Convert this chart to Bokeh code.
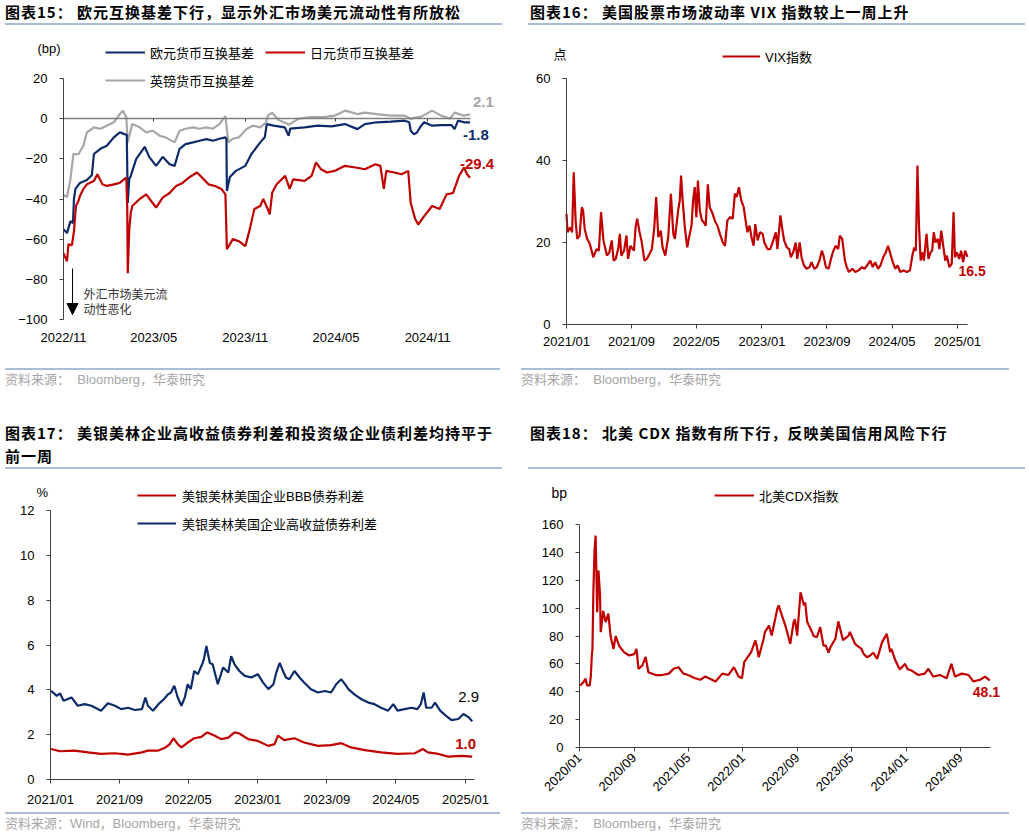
import math
import pandas as pd
from bokeh.plotting import figure
from bokeh.models import (Range1d, FixedTicker, DatetimeTickFormatter, DatetimeAxis, LinearAxis,
                          Legend, LegendItem, Label, Arrow, NormalHead, Div)
from bokeh.layouts import row, column
from bokeh.embed import file_html
from bokeh.resources import INLINE

# ---------------- data ----------------
# Chart 15: cross-currency basis (bp)
eur_dates = ["2022-11-01", "2022-11-08", "2022-11-15", "2022-11-20", "2022-11-22", "2022-11-25", "2022-12-04",
             "2022-12-18", "2022-12-28", "2023-01-01", "2023-01-14", "2023-01-27", "2023-02-10", "2023-02-22",
             "2023-03-03", "2023-03-08", "2023-03-10", "2023-03-13", "2023-03-16", "2023-03-27", "2023-04-13",
             "2023-04-22", "2023-05-06", "2023-05-19", "2023-06-02", "2023-06-12", "2023-06-22", "2023-07-04",
             "2023-07-19", "2023-08-01", "2023-08-15", "2023-08-28", "2023-09-10", "2023-09-22", "2023-09-24",
             "2023-09-25", "2023-10-01", "2023-10-13", "2023-11-01", "2023-11-13", "2023-12-01", "2023-12-10",
             "2023-12-14", "2023-12-28", "2024-01-19", "2024-01-27", "2024-01-30", "2024-02-28", "2024-03-25",
             "2024-04-22", "2024-05-19", "2024-06-13", "2024-06-28", "2024-07-22", "2024-08-19", "2024-09-16",
             "2024-09-25", "2024-09-28", "2024-10-04", "2024-10-10", "2024-10-19", "2024-10-25", "2024-11-10",
             "2024-11-28", "2024-12-19", "2024-12-25", "2025-01-01", "2025-01-13", "2025-01-25"]
eur_vals = [-55, -57, -51, -52, -40, -35, -32, -30.5, -28, -17.6, -15, -13.5, -9.3, -6.8, -7.7, -8, -42, -30,
            -28.5, -20, -14, -19, -23.5, -19, -22.7, -23.5, -15, -12.7, -11.8, -11, -10.2, -11, -10, -9.3, -10,
            -36, -29, -26, -23.5, -17.7, -11.8, -9.3, -2.7, -3.5, -4.3, -8.5, -5, -4.3, -3.5, -3.8, -2.7, -5.2,
            -2.7, -1.8, -1.5, -1, -1.8, -6, -7.7, -7, -3.5, -1.8, -3.5, -3.2, -3.2, -5.2, -1, -1.8, -1.8]

jpy_dates = ["2022-11-01", "2022-11-08", "2022-11-11", "2022-11-18", "2022-11-22", "2022-11-26", "2022-12-01",
             "2022-12-04", "2022-12-11", "2022-12-18", "2023-01-01", "2023-01-08", "2023-01-18", "2023-01-27",
             "2023-02-10", "2023-02-22", "2023-03-07", "2023-03-09", "2023-03-10", "2023-03-13", "2023-03-16",
             "2023-03-19", "2023-04-03", "2023-04-16", "2023-04-29", "2023-05-06", "2023-05-19", "2023-06-02",
             "2023-06-15", "2023-06-28", "2023-07-11", "2023-07-27", "2023-08-06", "2023-08-19", "2023-09-01",
             "2023-09-14", "2023-09-22", "2023-09-25", "2023-10-07", "2023-10-19", "2023-11-01", "2023-11-10",
             "2023-11-19", "2023-12-01", "2023-12-07", "2023-12-16", "2023-12-20", "2023-12-25", "2024-01-03",
             "2024-01-20", "2024-01-29", "2024-02-05", "2024-02-28", "2024-03-13", "2024-03-22", "2024-04-01",
             "2024-04-13", "2024-04-28", "2024-05-19", "2024-06-09", "2024-06-28", "2024-07-19", "2024-07-29",
             "2024-08-05", "2024-08-10", "2024-08-26", "2024-09-10", "2024-09-23", "2024-09-28", "2024-10-07",
             "2024-10-13", "2024-10-25", "2024-11-10", "2024-11-25", "2024-12-09", "2024-12-22", "2025-01-03",
             "2025-01-13", "2025-01-19", "2025-01-25"]
jpy_vals = [-67, -71, -62.5, -63, -56, -43.5, -41, -38.5, -35, -32.7, -31, -27.7, -32.7, -33.5, -32.7, -32,
            -29.3, -45, -77, -55, -47, -43.5, -40, -37.7, -42, -44.3, -39.3, -37, -33.5, -32, -29.3, -26.8,
            -29.3, -32.7, -33.5, -35, -37.7, -65, -60, -61, -63.5, -55, -45, -43.5, -40, -45, -47.7, -36.8,
            -32.7, -28.5, -35, -30.2, -31, -28.5, -21.8, -25.2, -26.8, -26, -23.5, -24.3, -25.2, -22.7, -23.5,
            -35, -26, -26.8, -27.7, -26, -42, -50, -52.7, -48.5, -43.5, -45, -37.7, -37, -28.5, -24.3, -27.7,
            -29.4]

gbp_dates = ["2022-11-01", "2022-11-08", "2022-11-15", "2022-11-21", "2022-12-01", "2022-12-11", "2022-12-18",
             "2023-01-01", "2023-01-14", "2023-01-27", "2023-02-10", "2023-02-22", "2023-02-28", "2023-03-07",
             "2023-03-10", "2023-03-19", "2023-04-03", "2023-04-16", "2023-04-29", "2023-05-13", "2023-05-25",
             "2023-06-12", "2023-06-22", "2023-07-04", "2023-07-19", "2023-08-01", "2023-08-15", "2023-08-28",
             "2023-09-10", "2023-09-22", "2023-09-28", "2023-10-07", "2023-10-19", "2023-11-04", "2023-11-16",
             "2023-12-01", "2023-12-13", "2023-12-16", "2023-12-25", "2024-01-06", "2024-01-28", "2024-02-16",
             "2024-03-13", "2024-04-07", "2024-04-28", "2024-05-19", "2024-06-13", "2024-06-28", "2024-07-22",
             "2024-08-19", "2024-09-16", "2024-09-28", "2024-10-19", "2024-11-10", "2024-11-28", "2024-12-16",
             "2024-12-25", "2025-01-13", "2025-01-25"]
gbp_vals = [-38, -39, -30, -17.7, -17.7, -13.5, -6.8, -4.3, -5, -3.5, -1.8, 2.3, 4, 0.7, -11.8, -2.7, -4.3,
            -6.8, -6, -8.5, -9.3, -11.8, -6, -5, -4.3, -5, -4.3, -5, -2.7, 1.3, -11.8, -10, -9.3, -5, -3.5,
            -4.3, -1.8, 1.5, 3, -0.5, -3, 0, 0.8, 0.8, 1.5, 4, 2.3, 3, 2.3, 1.5, 1.5, 0, 1, 4, 1.5, 0, 3, 1.5,
            2.1]

basis_ticks = ["2022-11-01", "2023-05-01", "2023-11-01", "2024-05-01", "2024-11-01"]
basis_yticks = [-100, -80, -60, -40, -20, 0, 20]

# Chart 16: VIX
vix_dates = ["2021-01-01", "2021-01-05", "2021-01-15", "2021-01-22", "2021-01-28", "2021-02-04", "2021-02-10",
             "2021-02-19", "2021-02-27", "2021-03-04", "2021-03-10", "2021-03-19", "2021-03-29", "2021-04-11",
             "2021-04-23", "2021-05-02", "2021-05-10", "2021-05-19", "2021-06-01", "2021-06-10", "2021-06-19",
             "2021-06-26", "2021-07-04", "2021-07-14", "2021-07-19", "2021-07-25", "2021-08-04", "2021-08-13",
             "2021-08-19", "2021-08-28", "2021-09-10", "2021-09-16", "2021-09-22", "2021-10-01", "2021-10-08",
             "2021-10-19", "2021-10-28", "2021-11-07", "2021-11-16", "2021-11-25", "2021-12-02", "2021-12-10",
             "2021-12-19", "2021-12-26", "2022-01-05", "2022-01-16", "2022-01-26", "2022-02-04", "2022-02-10",
             "2022-02-22", "2022-02-28", "2022-03-05", "2022-03-11", "2022-03-19", "2022-03-28", "2022-04-04",
             "2022-04-13", "2022-04-19", "2022-04-25", "2022-05-01", "2022-05-07", "2022-05-14", "2022-05-22",
             "2022-05-28", "2022-06-05", "2022-06-13", "2022-06-20", "2022-07-01", "2022-07-11", "2022-07-19",
             "2022-07-28", "2022-08-08", "2022-08-16", "2022-08-25", "2022-09-05", "2022-09-14", "2022-09-22",
             "2022-09-29", "2022-10-07", "2022-10-16", "2022-10-25", "2022-11-01", "2022-11-08", "2022-11-16",
             "2022-11-23", "2022-12-01", "2022-12-07", "2022-12-16", "2022-12-25", "2023-01-04", "2023-01-10",
             "2023-01-22", "2023-02-01", "2023-02-10", "2023-02-22", "2023-02-28", "2023-03-05", "2023-03-11",
             "2023-03-19", "2023-03-25", "2023-04-04", "2023-04-13", "2023-04-19", "2023-04-28", "2023-05-07",
             "2023-05-13", "2023-05-22", "2023-05-29", "2023-06-07", "2023-06-17", "2023-06-28", "2023-07-05",
             "2023-07-16", "2023-07-25", "2023-08-04", "2023-08-13", "2023-08-19", "2023-08-28", "2023-09-07",
             "2023-09-16", "2023-09-25", "2023-10-04", "2023-10-13", "2023-10-19", "2023-10-28", "2023-11-07",
             "2023-11-14", "2023-11-22", "2023-12-05", "2023-12-16", "2023-12-28", "2024-01-10", "2024-01-19",
             "2024-01-29", "2024-02-10", "2024-02-19", "2024-02-28", "2024-03-10", "2024-03-19", "2024-03-29",
             "2024-04-08", "2024-04-16", "2024-04-25", "2024-05-04", "2024-05-13", "2024-05-22", "2024-06-01",
             "2024-06-13", "2024-06-25", "2024-07-07", "2024-07-16", "2024-07-23", "2024-07-29", "2024-08-04",
             "2024-08-10", "2024-08-16", "2024-08-22", "2024-08-28", "2024-09-07", "2024-09-14", "2024-09-22",
             "2024-09-28", "2024-10-04", "2024-10-10", "2024-10-19", "2024-10-25", "2024-11-01", "2024-11-10",
             "2024-11-16", "2024-11-22", "2024-12-01", "2024-12-10", "2024-12-17", "2024-12-22", "2024-12-29",
             "2025-01-07", "2025-01-14", "2025-01-22", "2025-01-29", "2025-02-07"]
vix_vals = [27.0, 22.5, 23.7, 22.5, 37.1, 25.4, 20.9, 21.7, 28.6, 27.8, 23.3, 20.9, 19.7, 16.4, 18.4, 18.0,
            27.4, 20.5, 16.8, 17.6, 20.5, 15.6, 16.0, 18.8, 22.1, 16.8, 18.0, 21.7, 16.0, 19.2, 18.0, 23.7,
            25.8, 22.5, 20.5, 15.6, 16.0, 17.2, 18.4, 23.7, 31.1, 21.3, 22.9, 18.8, 16.8, 21.3, 31.9, 22.1,
            20.9, 27.8, 30.2, 36.3, 30.2, 23.7, 18.8, 21.3, 24.1, 30.2, 33.5, 26.2, 35.1, 27.8, 25.4, 25.0,
            24.1, 34.2, 28.6, 27.0, 25.0, 24.1, 22.1, 20.0, 19.2, 25.4, 26.2, 25.8, 31.9, 31.1, 33.5, 30.2,
            28.6, 25.4, 22.5, 24.1, 21.3, 19.2, 24.5, 20.5, 22.5, 22.1, 20.0, 18.4, 18.4, 20.0, 22.5, 18.4,
            22.1, 26.6, 22.9, 20.5, 18.8, 18.4, 16.4, 17.6, 20.0, 16.0, 20.0, 16.4, 14.4, 13.6, 14.0, 15.2,
            13.6, 14.0, 15.6, 18.0, 16.8, 14.0, 13.6, 16.0, 18.0, 19.2, 18.4, 21.7, 20.9, 15.6, 14.0, 12.8,
            13.6, 12.8, 13.2, 14.0, 13.6, 14.4, 15.6, 14.0, 15.2, 13.6, 14.4, 16.4, 17.6, 19.2, 17.2, 15.2,
            13.6, 14.4, 12.8, 13.2, 12.8, 13.2, 16.8, 18.8, 18.0, 38.8, 23.7, 15.6, 17.6, 15.6, 22.1, 16.0,
            17.6, 18.0, 22.5, 20.0, 20.9, 18.4, 22.9, 18.4, 15.6, 16.8, 14.0, 14.8, 27.4, 16.4, 17.6, 16.0,
            18.0, 15.2, 18.0, 16.5]
vix_ticks = ["2021-01-01", "2021-09-01", "2022-05-01", "2023-01-01", "2023-09-01", "2024-05-01", "2025-01-01"]
vix_yticks = [0, 20, 40, 60]

# Chart 17: ICE BofA spreads (%)
hy_dates = ["2021-01-03", "2021-01-23", "2021-02-04", "2021-02-16", "2021-03-16", "2021-04-07", "2021-05-01",
            "2021-05-25", "2021-06-28", "2021-07-22", "2021-08-16", "2021-09-07", "2021-10-01", "2021-10-25",
            "2021-11-19", "2021-12-01", "2021-12-10", "2021-12-28", "2022-01-16", "2022-02-04", "2022-02-19",
            "2022-03-01", "2022-03-13", "2022-03-25", "2022-04-07", "2022-04-19", "2022-04-29", "2022-05-10",
            "2022-05-22", "2022-06-04", "2022-06-19", "2022-06-25", "2022-07-04", "2022-07-16", "2022-07-26",
            "2022-08-13", "2022-09-01", "2022-09-19", "2022-09-29", "2022-10-11", "2022-10-28", "2022-11-16",
            "2022-12-10", "2023-01-01", "2023-01-19", "2023-02-07", "2023-02-25", "2023-03-07", "2023-03-19",
            "2023-03-28", "2023-04-10", "2023-04-22", "2023-05-10", "2023-05-28", "2023-06-13", "2023-07-07",
            "2023-08-01", "2023-08-25", "2023-09-16", "2023-10-04", "2023-10-22", "2023-11-04", "2023-11-16",
            "2023-12-07", "2024-01-01", "2024-01-25", "2024-02-16", "2024-03-10", "2024-04-04", "2024-04-22",
            "2024-05-07", "2024-06-01", "2024-06-25", "2024-07-16", "2024-07-28", "2024-08-07", "2024-08-16",
            "2024-09-04", "2024-09-16", "2024-10-04", "2024-10-25", "2024-11-13", "2024-12-07", "2024-12-25",
            "2025-01-13", "2025-01-25"]
hy_vals = [3.96, 3.73, 3.84, 3.51, 3.66, 3.29, 3.36, 3.29, 3.07, 3.40, 3.29, 3.14, 3.20, 3.10, 3.14, 3.66,
           3.29, 3.07, 3.36, 3.58, 3.80, 3.88, 4.18, 3.66, 3.29, 3.66, 4.25, 4.03, 4.84, 4.70, 5.14, 5.36,
           5.96, 5.20, 5.14, 4.25, 5.00, 4.77, 5.50, 5.14, 4.84, 4.62, 4.55, 4.70, 4.33, 4.03, 4.25, 4.77,
           5.20, 4.92, 4.55, 4.47, 4.84, 4.55, 4.33, 4.03, 3.88, 3.95, 3.88, 4.25, 4.47, 4.25, 4.03, 3.80,
           3.58, 3.43, 3.36, 3.20, 3.07, 3.36, 3.07, 3.14, 3.20, 3.14, 3.36, 3.88, 3.20, 3.20, 3.43, 3.07,
           2.84, 2.65, 2.70, 2.92, 2.77, 2.60]
bbb_dates = ["2021-01-03", "2021-02-04", "2021-03-26", "2021-05-13", "2021-06-28", "2021-08-16", "2021-10-01",
             "2021-11-19", "2021-12-10", "2022-01-16", "2022-02-10", "2022-02-25", "2022-03-10", "2022-03-25",
             "2022-04-07", "2022-04-29", "2022-05-22", "2022-06-16", "2022-07-07", "2022-08-01", "2022-08-25",
             "2022-09-19", "2022-10-11", "2022-10-28", "2022-11-28", "2023-01-01", "2023-02-07", "2023-03-01",
             "2023-03-13", "2023-04-04", "2023-05-10", "2023-06-13", "2023-08-01", "2023-09-16", "2023-10-22",
             "2023-11-25", "2024-01-13", "2024-03-10", "2024-05-07", "2024-07-07", "2024-08-04", "2024-08-22",
             "2024-09-28", "2024-11-01", "2024-12-19", "2025-01-25"]
bbb_vals = [1.36, 1.26, 1.29, 1.21, 1.14, 1.17, 1.11, 1.21, 1.29, 1.29, 1.43, 1.58, 1.84, 1.58, 1.43, 1.65,
            1.84, 1.90, 2.10, 1.96, 1.80, 1.87, 2.10, 2.05, 1.80, 1.72, 1.50, 1.58, 1.96, 1.76, 1.84, 1.65,
            1.50, 1.53, 1.62, 1.43, 1.31, 1.21, 1.14, 1.17, 1.36, 1.21, 1.14, 1.02, 1.05, 1.02]
spread_ticks = ["2021-01-01", "2021-09-01", "2022-05-01", "2023-01-01", "2023-09-01", "2024-05-01", "2025-01-01"]
spread_yticks = [0, 2, 4, 6, 8, 10, 12]

# Chart 18: CDX NA IG (bp)
cdx_dates = ["2020-01-05", "2020-01-19", "2020-01-28", "2020-02-04", "2020-02-16", "2020-02-21", "2020-02-25",
             "2020-02-28", "2020-03-03", "2020-03-08", "2020-03-13", "2020-03-17", "2020-03-20", "2020-03-26",
             "2020-04-02", "2020-04-05", "2020-04-16", "2020-04-27", "2020-05-09", "2020-05-19", "2020-06-01",
             "2020-06-11", "2020-06-26", "2020-07-18", "2020-08-10", "2020-09-02", "2020-09-12", "2020-09-21",
             "2020-10-08", "2020-10-23", "2020-11-04", "2020-12-07", "2021-01-04", "2021-02-04", "2021-02-25",
             "2021-03-19", "2021-04-10", "2021-05-01", "2021-06-01", "2021-06-25", "2021-07-16", "2021-08-16",
             "2021-09-01", "2021-10-01", "2021-10-28", "2021-11-22", "2021-12-13", "2021-12-28", "2022-01-07",
             "2022-02-07", "2022-02-26", "2022-03-04", "2022-03-13", "2022-04-04", "2022-04-10", "2022-04-28",
             "2022-05-10", "2022-06-04", "2022-06-10", "2022-06-25", "2022-07-10", "2022-08-01", "2022-08-16",
             "2022-08-22", "2022-09-01", "2022-09-16", "2022-10-01", "2022-10-07", "2022-10-16", "2022-11-07",
             "2022-11-13", "2022-11-28", "2022-12-13", "2022-12-28", "2023-01-07", "2023-01-19", "2023-01-28",
             "2023-02-19", "2023-03-04", "2023-03-25", "2023-04-19", "2023-04-25", "2023-05-16", "2023-05-25",
             "2023-06-16", "2023-06-25", "2023-07-10", "2023-07-25", "2023-08-07", "2023-08-25", "2023-09-16",
             "2023-10-07", "2023-10-22", "2023-10-28", "2023-11-13", "2023-12-04", "2023-12-28", "2024-01-07",
             "2024-01-28", "2024-02-25", "2024-03-25", "2024-04-10", "2024-05-01", "2024-06-01", "2024-07-01",
             "2024-07-22", "2024-08-07", "2024-09-07", "2024-10-07", "2024-10-28", "2024-11-28", "2024-12-19",
             "2025-01-10"]
cdx_vals = [44.5, 47, 49.4, 44.5, 44.5, 52, 66, 70.5, 111, 140, 152, 123, 97, 127, 109, 82.7, 98, 90, 96, 80,
            70.7, 80, 73, 68.4, 66, 67, 70.7, 56.4, 58.8, 65, 54, 52, 52, 53, 56.5, 57.6, 53, 52, 49.7, 48.6,
            50.9, 48.6, 47.4, 53, 52, 57.6, 50.9, 49.7, 61.2, 68.4, 76.8, 73, 64.8, 78, 83, 87.5, 80.3, 99.4,
            102, 94.6, 87.5, 74.4, 90, 92, 80.3, 111.4, 102, 104, 90, 82.7, 80, 79.1, 86.3, 73, 73.2, 68, 72,
            78, 90.5, 77, 80.3, 83, 75, 73.2, 70.7, 67.2, 64.7, 66, 68, 63.6, 75.6, 81.5, 68.4, 70.7, 63, 56,
            60, 56.4, 55, 52, 53, 56.5, 50.9, 52, 49.7, 60, 50.9, 53, 52, 47.4, 48.6, 50.9, 48.1]
cdx_ticks = ["2020-01-01", "2020-09-01", "2021-05-01", "2022-01-01", "2022-09-01", "2023-05-01", "2024-01-01",
             "2024-09-01"]
cdx_yticks = [0, 20, 40, 60, 80, 100, 120, 140, 160]

# ---------------- style ----------------
NAVY = "#0d2b6b"
RED = "#c00000"
GRAY = "#a6a6a6"
AXIS = "#404040"
RULE = "#a9bdd6"
LATIN = "Liberation Sans"
CJK = "Noto Sans CJK SC"
MIX = "Liberation Sans, Noto Sans CJK SC"
LW = 2.2


def ms(s):
    return pd.Timestamp(s).value // 10**6


def date_fmt():
    return DatetimeTickFormatter(years="%Y/%m", months="%Y/%m", days="%Y/%m", hours="%Y/%m")


def style_axis(ax, tick_out=4, standoff=12):
    ax.axis_line_color = AXIS
    ax.axis_line_width = 1
    ax.major_tick_line_color = AXIS
    ax.major_tick_out = tick_out
    ax.major_tick_in = 0
    ax.minor_tick_line_color = None
    ax.major_label_text_font = LATIN
    ax.major_label_text_font_size = "13px"
    ax.major_label_text_color = "#000000"
    ax.major_label_standoff = standoff


def make_fig(W, H, x0, x1, y0, y1, L, R, T, B, xticks, yticks, x_tick_out=4, x_standoff=5):
    """Frame covers the whole figure; the data box [x0,x1]x[y0,y1] sits at pixels L..R, T..B."""
    x0m, x1m = ms(x0), ms(x1)
    ux = (x1m - x0m) / (R - L)
    uy = (y1 - y0) / (B - T)
    p = figure(width=W, height=H, x_axis_type="datetime", x_axis_location=None, y_axis_location=None,
               x_range=Range1d(x0m - L * ux, x1m + (W - R) * ux),
               y_range=Range1d(y0 - (H - B) * uy, y1 + T * uy),
               output_backend="svg", toolbar_location=None, title=None, min_border=0)
    p.outline_line_color = None
    p.xgrid.visible = False
    p.ygrid.visible = False
    p.background_fill_color = "white"
    p.border_fill_color = "white"
    xa = DatetimeAxis(fixed_location=y0, bounds=(x0m, x1m), ticker=FixedTicker(ticks=[ms(d) for d in xticks]),
                      formatter=date_fmt())
    style_axis(xa, tick_out=x_tick_out, standoff=x_standoff)
    p.add_layout(xa, "below")
    ya = LinearAxis(fixed_location=x0m, bounds=(y0, y1), ticker=FixedTicker(ticks=yticks))
    style_axis(ya)
    p.add_layout(ya, "left")
    return p, xa, ya


def add_legend(p, items, x, y, orientation="vertical", spacing=8, glyph_w=40, standoff=5):
    leg = Legend(items=[LegendItem(label=t, renderers=[r]) for t, r in items],
                 location=(x, y), orientation=orientation, spacing=spacing,
                 glyph_width=glyph_w, glyph_height=20, label_height=20, label_standoff=standoff,
                 padding=0, margin=0, border_line_color=None, background_fill_alpha=0,
                 label_text_font=MIX, label_text_font_size="13px", label_text_color="#000000")
    p.add_layout(leg)


def screen_label(p, x, y, text, size="13px", font=MIX, color="#000000"):
    p.add_layout(Label(x=x, y=y, x_units="screen", y_units="screen", text=text, text_font=font,
                       text_font_size=size, text_color=color, text_baseline="middle", text_align="left"))


def end_label(p, x, y, text, color, dx, dy, size="15px", bold=True):
    p.add_layout(Label(x=ms(x), y=y, x_offset=dx, y_offset=dy, text=text, text_font=LATIN,
                       text_font_size=size, text_font_style="bold" if bold else "normal",
                       text_color=color, text_baseline="middle", text_align="left"))


def title_div(w, h, text, left, top, line_l, line_w):
    html = ('<div style="position:relative;width:%dpx;height:%dpx;margin:0;padding:0;">'
            '<div style="position:absolute;left:%dpx;top:%dpx;font-family:\'Noto Sans CJK SC\',sans-serif;'
            'font-weight:bold;font-size:15px;line-height:23px;letter-spacing:1px;color:#000;white-space:nowrap;">%s</div>'
            '<div style="position:absolute;left:%dpx;top:%dpx;width:%dpx;height:2px;background:%s;"></div></div>'
            % (w, h, left, top, text, line_l, h - 2, line_w, RULE))
    return Div(text=html, width=w, height=h, margin=(0, 0, 0, 0))


def source_div(w, h, text, line_l, line_w):
    html = ('<div style="position:relative;width:%dpx;height:%dpx;margin:0;padding:0;">'
            '<div style="position:absolute;left:%dpx;top:0px;width:%dpx;height:2px;background:%s;"></div>'
            '<div style="position:absolute;left:%dpx;top:4px;font-family:\'Liberation Sans\',\'Noto Sans CJK SC\',sans-serif;'
            'font-size:13px;line-height:16px;color:#a6a6a6;white-space:nowrap;">%s</div></div>'
            % (w, h, line_l, line_w, RULE, line_l, text))
    return Div(text=html, width=w, height=h, margin=(0, 0, 0, 0))


WL, WR, FH = 512, 514, 343

# ---------------- chart 15 ----------------
p1, xa1, ya1 = make_fig(WL, FH, "2022-11-01", "2025-01-26", -100, 20, 63, 470, 53, 294,
                        basis_ticks, basis_yticks, x_tick_out=0, x_standoff=10)
xa1.axis_line_color = None
xa1.major_tick_line_color = None
zero_axis = DatetimeAxis(fixed_location=0, bounds=(ms("2022-11-01"), ms("2025-01-26")),
                         ticker=FixedTicker(ticks=[ms(d) for d in basis_ticks]), formatter=date_fmt())
zero_axis.axis_line_color = "#7f7f7f"
zero_axis.axis_line_width = 1.5
zero_axis.major_tick_line_color = AXIS
zero_axis.major_tick_out = 3
zero_axis.major_tick_in = 0
zero_axis.minor_tick_line_color = None
zero_axis.major_label_text_color = None
zero_axis.major_label_text_font_size = "1px"
zero_axis.major_label_standoff = 0
p1.add_layout(zero_axis, "below")

r_gbp = p1.line(pd.to_datetime(gbp_dates), gbp_vals, line_color=GRAY, line_width=LW)
r_eur = p1.line(pd.to_datetime(eur_dates), eur_vals, line_color=NAVY, line_width=LW)
r_jpy = p1.line(pd.to_datetime(jpy_dates), jpy_vals, line_color=RED, line_width=LW)
add_legend(p1, [("欧元货币互换基差", r_eur), ("日元货币互换基差", r_jpy)], 105, 306,
           orientation="horizontal", spacing=11)
add_legend(p1, [("英镑货币互换基差", r_gbp)], 105, 278)
screen_label(p1, 37, 320, "(bp)", font=LATIN)
p1.add_layout(Arrow(end=NormalHead(size=11, fill_color="black", line_color="black"),
                    x_start=72, y_start=100, x_end=72, y_end=54, start_units="screen", end_units="screen",
                    line_color="black", line_width=1))
screen_label(p1, 83, 75, "外汇市场美元流", size="12px", font=CJK, color="#333333")
screen_label(p1, 83, 60, "动性恶化", size="12px", font=CJK, color="#333333")
end_label(p1, gbp_dates[-1], gbp_vals[-1], "2.1", GRAY, 3, 12)
end_label(p1, eur_dates[-1], eur_vals[-1], "-1.8", NAVY, -7, -13)
end_label(p1, jpy_dates[-1], jpy_vals[-1], "-29.4", RED, -10, 14)

panel1 = column(
    title_div(WL, 25, "图表15：&nbsp;欧元互换基差下行，显示外汇市场美元流动性有所放松", 5, 0, 5, 497),
    p1,
    source_div(WL, 24, "资料来源：&nbsp;&nbsp;Bloomberg，华泰研究", 5, 495),
    spacing=0)

# ---------------- chart 16 ----------------
p2, xa2, ya2 = make_fig(WR, FH, "2021-01-01", "2025-02-07", 0, 60, 51, 452, 53, 299,
                        vix_ticks, vix_yticks, x_tick_out=4, x_standoff=5)
r_vix = p2.line(pd.to_datetime(vix_dates), vix_vals, line_color=RED, line_width=LW)
add_legend(p2, [("VIX指数", r_vix)], 207, 302, glyph_w=38)
screen_label(p2, 38, 315, "点", font=CJK)
end_label(p2, vix_dates[-1], vix_vals[-1], "16.5", RED, -9, -14, size="14px")

panel2 = column(
    title_div(WR, 25, "图表16：&nbsp;美国股票市场波动率 VIX 指数较上一周上升", 15, 0, 13, 497),
    p2,
    source_div(WR, 24, "资料来源：&nbsp;&nbsp;Bloomberg，华泰研究", 6, 488),
    spacing=0)

# ---------------- chart 17 ----------------
p3, xa3, ya3 = make_fig(WL, FH, "2021-01-01", "2025-02-02", 0, 12, 50, 474, 41, 310,
                        spread_ticks, spread_yticks, x_tick_out=4, x_standoff=8)
r_hy = p3.line(pd.to_datetime(hy_dates), hy_vals, line_color=NAVY, line_width=LW)
r_bbb = p3.line(pd.to_datetime(bbb_dates), bbb_vals, line_color=RED, line_width=LW)
add_legend(p3, [("美银美林美国企业BBB债券利差", r_bbb), ("美银美林美国企业高收益债券利差", r_hy)], 137, 279,
           glyph_w=39, standoff=6)
screen_label(p3, 36, 320, "%", font=LATIN)
end_label(p3, hy_dates[-1], hy_vals[-1], "2.9", "#000000", -14, 24, bold=False)
end_label(p3, bbb_dates[-1], bbb_vals[-1], "1.0", RED, -17, 13)

panel3 = column(
    title_div(WL, 54, "图表17：&nbsp;美银美林企业高收益债券利差和投资级企业债利差均持平于<br>前一周", 5, 6, 5, 497),
    p3,
    source_div(WL, 25, "资料来源：Wind，Bloomberg，华泰研究", 5, 495),
    spacing=0)

# ---------------- chart 18 ----------------
p4, xa4, ya4 = make_fig(WR, FH, "2020-01-01", "2025-01-13", 0, 160, 64, 475, 55, 278,
                        cdx_ticks, cdx_yticks, x_tick_out=4, x_standoff=4)
xa4.major_label_orientation = math.pi / 4
r_cdx = p4.line(pd.to_datetime(cdx_dates), cdx_vals, line_color=RED, line_width=LW)
add_legend(p4, [("北美CDX指数", r_cdx)], 199, 307)
screen_label(p4, 36, 320, "bp", size="14px", font=LATIN)
end_label(p4, cdx_dates[-1], cdx_vals[-1], "48.1", RED, -17, -12, size="14px")

panel4 = column(
    title_div(WR, 54, "图表18：&nbsp;北美 CDX 指数有所下行，反映美国信用风险下行", 15, 6, 13, 497),
    p4,
    source_div(WR, 25, "资料来源：&nbsp;&nbsp;Bloomberg，华泰研究", 6, 488),
    spacing=0)

layout = column(row(panel1, panel2, spacing=3), row(panel3, panel4, spacing=3), spacing=23)

open("out.html", "w").write(file_html(layout, INLINE))
